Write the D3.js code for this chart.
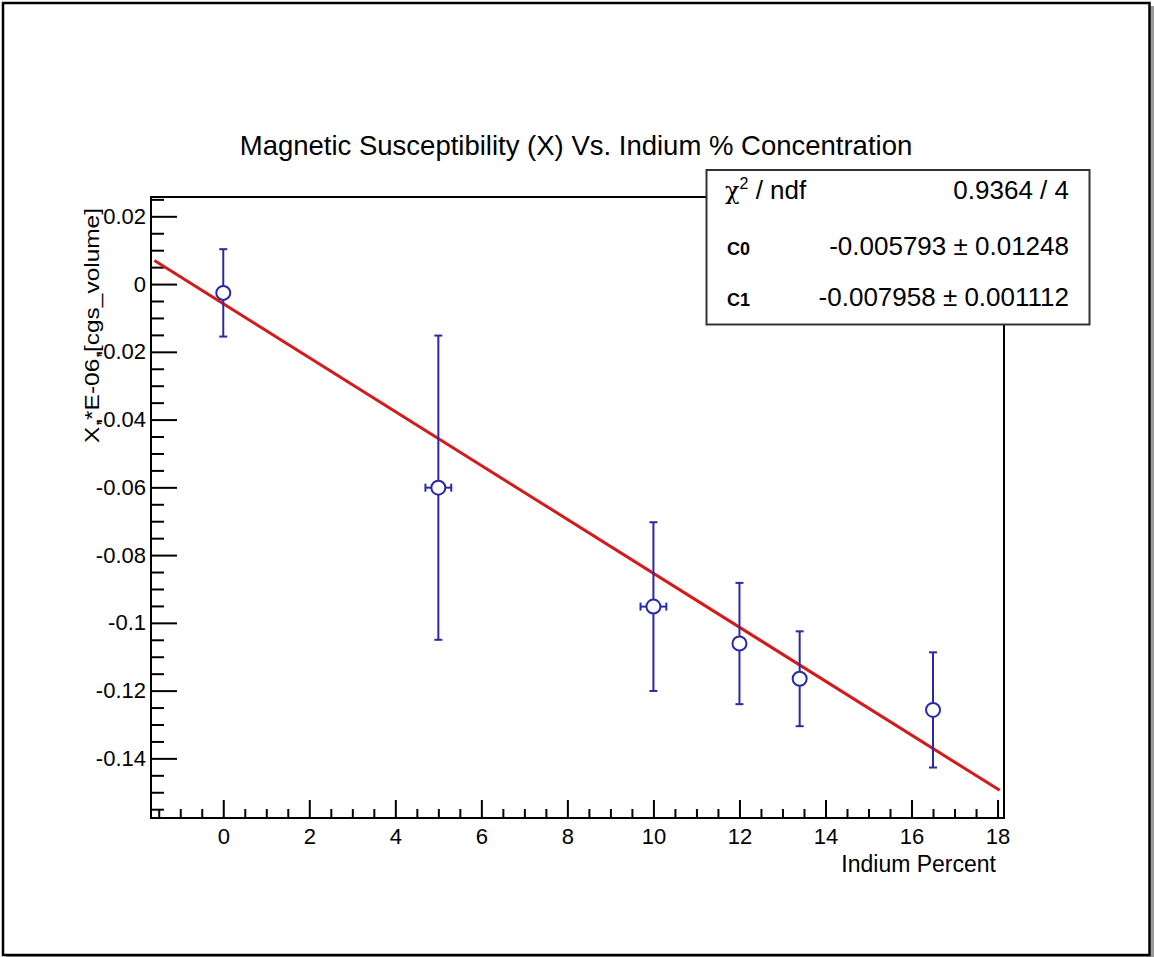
<!DOCTYPE html>
<html>
<head>
<meta charset="utf-8">
<script src="https://cdn.jsdelivr.net/npm/d3@7"></script>
<style>
  body { margin: 0; background: #fff; }
  text { font-family: "Liberation Sans", Arial, sans-serif; fill: #000; }
</style>
</head>
<body>
<svg width="1154" height="957"></svg>
<script>
// measured points
var indium = [0, 5, 10, 12, 13.4, 16.5];
var indiumErr = [0, 0.3, 0.3, 0, 0, 0];
var chi = [-0.0026, -0.0601, -0.0952, -0.1061, -0.1165, -0.1257];
var chiErr = [0.0129, 0.0449, 0.0249, 0.0179, 0.0140, 0.0170];

// pol1 fit result
var c0 = -0.005793, c0Err = 0.01248;
var c1 = -0.007958, c1Err = 0.001112;
var chi2Text = "0.9364 / 4";
var fitRange = [-1.6, 18.05];

var xTicks = [0, 2, 4, 6, 8, 10, 12, 14, 16, 18];
var xTickLabels = ["0", "2", "4", "6", "8", "10", "12", "14", "16", "18"];
var yTicks = [0.02, 0, -0.02, -0.04, -0.06, -0.08, -0.1, -0.12, -0.14];
var yTickLabels = ["0.02", "0", "-0.02", "-0.04", "-0.06", "-0.08", "-0.1", "-0.12", "-0.14"];

var frame = {left: 151, right: 1004, top: 197, bottom: 818};
var blue = "#2a2aa8", red = "#d41a1a";

var svg = d3.select("svg");

// canvas border with shadow
svg.append("rect").attr("x", 1150.5).attr("y", 6).attr("width", 3.5).attr("height", 951).attr("fill", "#9a9a9a");
svg.append("rect").attr("x", 6).attr("y", 956).attr("width", 1148).attr("height", 1).attr("fill", "#9a9a9a");
svg.append("rect")
  .attr("x", 3).attr("y", 3).attr("width", 1146.5).attr("height", 952)
  .attr("fill", "none").attr("stroke", "#000").attr("stroke-width", 2.5);

var xScale = d3.scaleLinear().domain([-1.68, 18.15]).range([frame.left, frame.right]);
var yScale = d3.scaleLinear().domain([-0.1576, 0.0257]).range([frame.bottom, frame.top]);

// title
svg.append("text")
  .attr("x", 576).attr("y", 155)
  .attr("text-anchor", "middle")
  .style("font-size", "27.5px")
  .text("Magnetic Susceptibility (X) Vs. Indium % Concentration");

// axes (ticks pointing inward like ROOT), minor and major in separate groups
var xMinor = d3.range(-3, 37).map(function(i){ return i * 0.5; }).filter(function(v){ return v % 2 !== 0; });
var yMinor = d3.range(-31, 6).filter(function(i){ return i % 4 !== 0; }).map(function(i){ return i * 0.005; });

svg.append("g").attr("transform", "translate(0," + frame.bottom + ")")
  .call(d3.axisBottom(xScale).tickValues(xMinor).tickSize(-9).tickFormat(""));
svg.append("g").attr("transform", "translate(0," + frame.bottom + ")")
  .call(d3.axisBottom(xScale).tickValues(xTicks).tickSize(-18).tickPadding(10)
    .tickFormat(function(d, i){ return xTickLabels[i]; }));

svg.append("g").attr("transform", "translate(" + frame.left + ",0)")
  .call(d3.axisLeft(yScale).tickValues(yMinor).tickSize(-13).tickFormat(""));
svg.append("g").attr("transform", "translate(" + frame.left + ",0)")
  .call(d3.axisLeft(yScale).tickValues(yTicks).tickSize(-26).tickPadding(5)
    .tickFormat(function(d, i){ return yTickLabels[i]; }));

svg.selectAll(".domain").remove();
svg.selectAll(".tick line").attr("stroke", "#000").attr("stroke-width", 2);
svg.selectAll(".tick text").style("font-size", "22px").attr("font-family", null);

// frame
svg.append("rect")
  .attr("x", frame.left).attr("y", frame.top)
  .attr("width", frame.right - frame.left).attr("height", frame.bottom - frame.top)
  .attr("fill", "none").attr("stroke", "#000").attr("stroke-width", 2);

// axis titles
svg.append("text")
  .attr("x", 996).attr("y", 872)
  .attr("text-anchor", "end")
  .style("font-size", "23px")
  .text("Indium Percent");

svg.append("text")
  .attr("transform", "translate(99,208) rotate(-90)")
  .attr("text-anchor", "end")
  .attr("textLength", 235).attr("lengthAdjust", "spacingAndGlyphs")
  .style("font-size", "20px")
  .text("X,*E-06,[cgs_volume]");

// fit line
var fitLine = d3.line()
  .x(function(d){ return xScale(d); })
  .y(function(d){ return yScale(c0 + c1 * d); });
svg.append("path")
  .attr("d", fitLine(fitRange))
  .attr("fill", "none").attr("stroke", red).attr("stroke-width", 3);

// error bars + markers
var pts = indium.map(function(x, i){
  return {x: x, y: chi[i], ex: indiumErr[i], ey: chiErr[i]};
});
var g = svg.append("g").attr("stroke", blue).attr("stroke-width", 2);
var cap = 4;
pts.forEach(function(p){
  var cx = xScale(p.x), cy = yScale(p.y);
  var y1 = yScale(p.y + p.ey), y2 = yScale(p.y - p.ey);
  g.append("line").attr("x1", cx).attr("x2", cx).attr("y1", y1).attr("y2", y2);
  g.append("line").attr("x1", cx - cap).attr("x2", cx + cap).attr("y1", y1).attr("y2", y1);
  g.append("line").attr("x1", cx - cap).attr("x2", cx + cap).attr("y1", y2).attr("y2", y2);
  if (p.ex > 0) {
    var x1 = xScale(p.x - p.ex), x2 = xScale(p.x + p.ex);
    g.append("line").attr("x1", x1).attr("x2", x2).attr("y1", cy).attr("y2", cy);
    g.append("line").attr("x1", x1).attr("x2", x1).attr("y1", cy - cap).attr("y2", cy + cap);
    g.append("line").attr("x1", x2).attr("x2", x2).attr("y1", cy - cap).attr("y2", cy + cap);
  }
  g.append("circle").attr("cx", cx).attr("cy", cy).attr("r", 7).attr("fill", "#fff");
});

// stats box
var box = svg.append("g");
box.append("rect")
  .attr("x", 706.5).attr("y", 170).attr("width", 383).attr("height", 154.5)
  .attr("fill", "#fff").attr("stroke", "#333").attr("stroke-width", 2);

var t0 = box.append("text").attr("x", 725).attr("y", 199).style("font-size", "26px");
t0.append("tspan").style("font-family", "'DejaVu Serif', serif").style("font-size", "24px").text("χ");
t0.append("tspan").attr("dy", -10).style("font-size", "16px").text("2");
t0.append("tspan").attr("dy", 10).text(" / ndf");

var statRows = [
  {name: "C0", value: c0.toFixed(6) + " \u00b1 " + c0Err},
  {name: "C1", value: c1.toFixed(6) + " \u00b1 " + c1Err}
];
box.append("text").attr("x", 1069).attr("y", 199).attr("text-anchor", "end")
  .style("font-size", "26px").text(chi2Text);
statRows.forEach(function(r, i){
  var yy = 255 + i * 51;
  box.append("text").attr("x", 727).attr("y", yy)
    .attr("font-family", "'Liberation Sans', Arial, sans-serif").attr("font-weight", "bold")
    .style("font-size", "18px")
    .text(r.name);
  box.append("text").attr("x", 1069).attr("y", yy).attr("text-anchor", "end")
    .style("font-size", "26px").text(r.value);
});
</script>
</body>
</html>
